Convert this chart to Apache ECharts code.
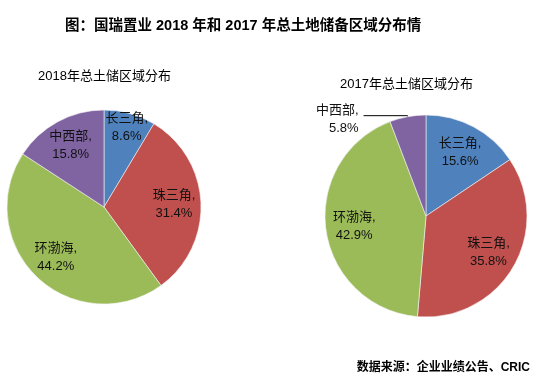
<!DOCTYPE html>
<html>
<head>
<meta charset="utf-8">
<script src="https://cdn.jsdelivr.net/npm/echarts@6/dist/echarts.min.js"></script>
<style>
html, body { margin: 0; padding: 0; background: #fff; }
#main { width: 544px; height: 376px; }
</style>
</head>
<body>
<div id="main"></div>
<script>
var regions = ['长三角', '珠三角', '环渤海', '中西部'];
var share2018 = [8.6, 31.4, 44.2, 15.8];
var share2017 = [15.6, 35.8, 42.9, 5.8];
var colors = ['#4F81BD', '#C0504D', '#9BBB59', '#8064A2'];

var font = "'Liberation Sans', 'Noto Sans CJK SC', sans-serif";

function makeData(vals, outsideIdx) {
    var out = [];
    for (var i = 0; i < regions.length; i++) {
        var item = { name: regions[i], value: vals[i] };
        if (i === outsideIdx) {
            item.label = { position: 'outside' };
            item.labelLine = { show: true };
        }
        out.push(item);
    }
    return out;
}

// base pie (slices only)
function slicePie(center, r, vals) {
    return {
        type: 'pie',
        center: center,
        radius: r,
        startAngle: 90,
        clockwise: true,
        silent: true,
        label: { show: false },
        labelLine: { show: false },
        itemStyle: {
            color: function (p) { return colors[p.dataIndex]; },
            borderColor: '#f4f4f4',
            borderWidth: 0.6
        },
        data: makeData(vals, -1)
    };
}

// transparent ring just to put the labels at ~0.7 r like excel
function labelPie(center, r, vals, outsideIdx, layoutFn) {
    return {
        type: 'pie',
        center: center,
        radius: [Math.round(r * 0.38), r],
        startAngle: 90,
        clockwise: true,
        silent: true,
        itemStyle: { color: 'rgba(0,0,0,0)' },
        label: {
            show: true,
            position: 'inside',
            formatter: '{b},\n{c}%',
            color: '#111',
            fontSize: 13,
            lineHeight: 18,
            fontFamily: font
        },
        labelLine: {
            show: false,
            length: 1,
            length2: 44,
            lineStyle: { color: '#000', width: 1 }
        },
        labelLayout: layoutFn,
        data: makeData(vals, outsideIdx)
    };
}

var chart = echarts.init(document.getElementById('main'));

chart.setOption({
    animation: false,
    backgroundColor: '#fff',
    title: [
        {
            text: '图：国瑞置业 2018 年和 2017 年总土地储备区域分布情',
            left: 60,
            top: 14,
            textStyle: { fontSize: 14.5, fontWeight: 'bold', color: '#000', fontFamily: font }
        },
        {
            text: '2018年总土储区域分布',
            left: 33,
            top: 65,
            textStyle: { fontSize: 13, fontWeight: 'normal', color: '#000', fontFamily: font }
        },
        {
            text: '2017年总土储区域分布',
            left: 335,
            top: 73,
            textStyle: { fontSize: 13, fontWeight: 'normal', color: '#000', fontFamily: font }
        },
        {
            text: '数据来源：企业业绩公告、CRIC',
            right: 9,
            top: 357,
            textStyle: { fontSize: 12, fontWeight: 'bold', color: '#000', fontFamily: font }
        }
    ],
    series: [
        slicePie([104, 207], 97, share2018),
        labelPie([104, 207], 97, share2018, -1, function (p) {
            if (p.dataIndex === 0) return { dx: 4, dy: -12 };
            return {};
        }),
        slicePie([426, 216], 101, share2017),
        labelPie([426, 216], 101, share2017, 3, function (p) {
            if (p.dataIndex === 3) return { dy: 4 };
            return {};
        })
    ]
});
</script>
</body>
</html>
